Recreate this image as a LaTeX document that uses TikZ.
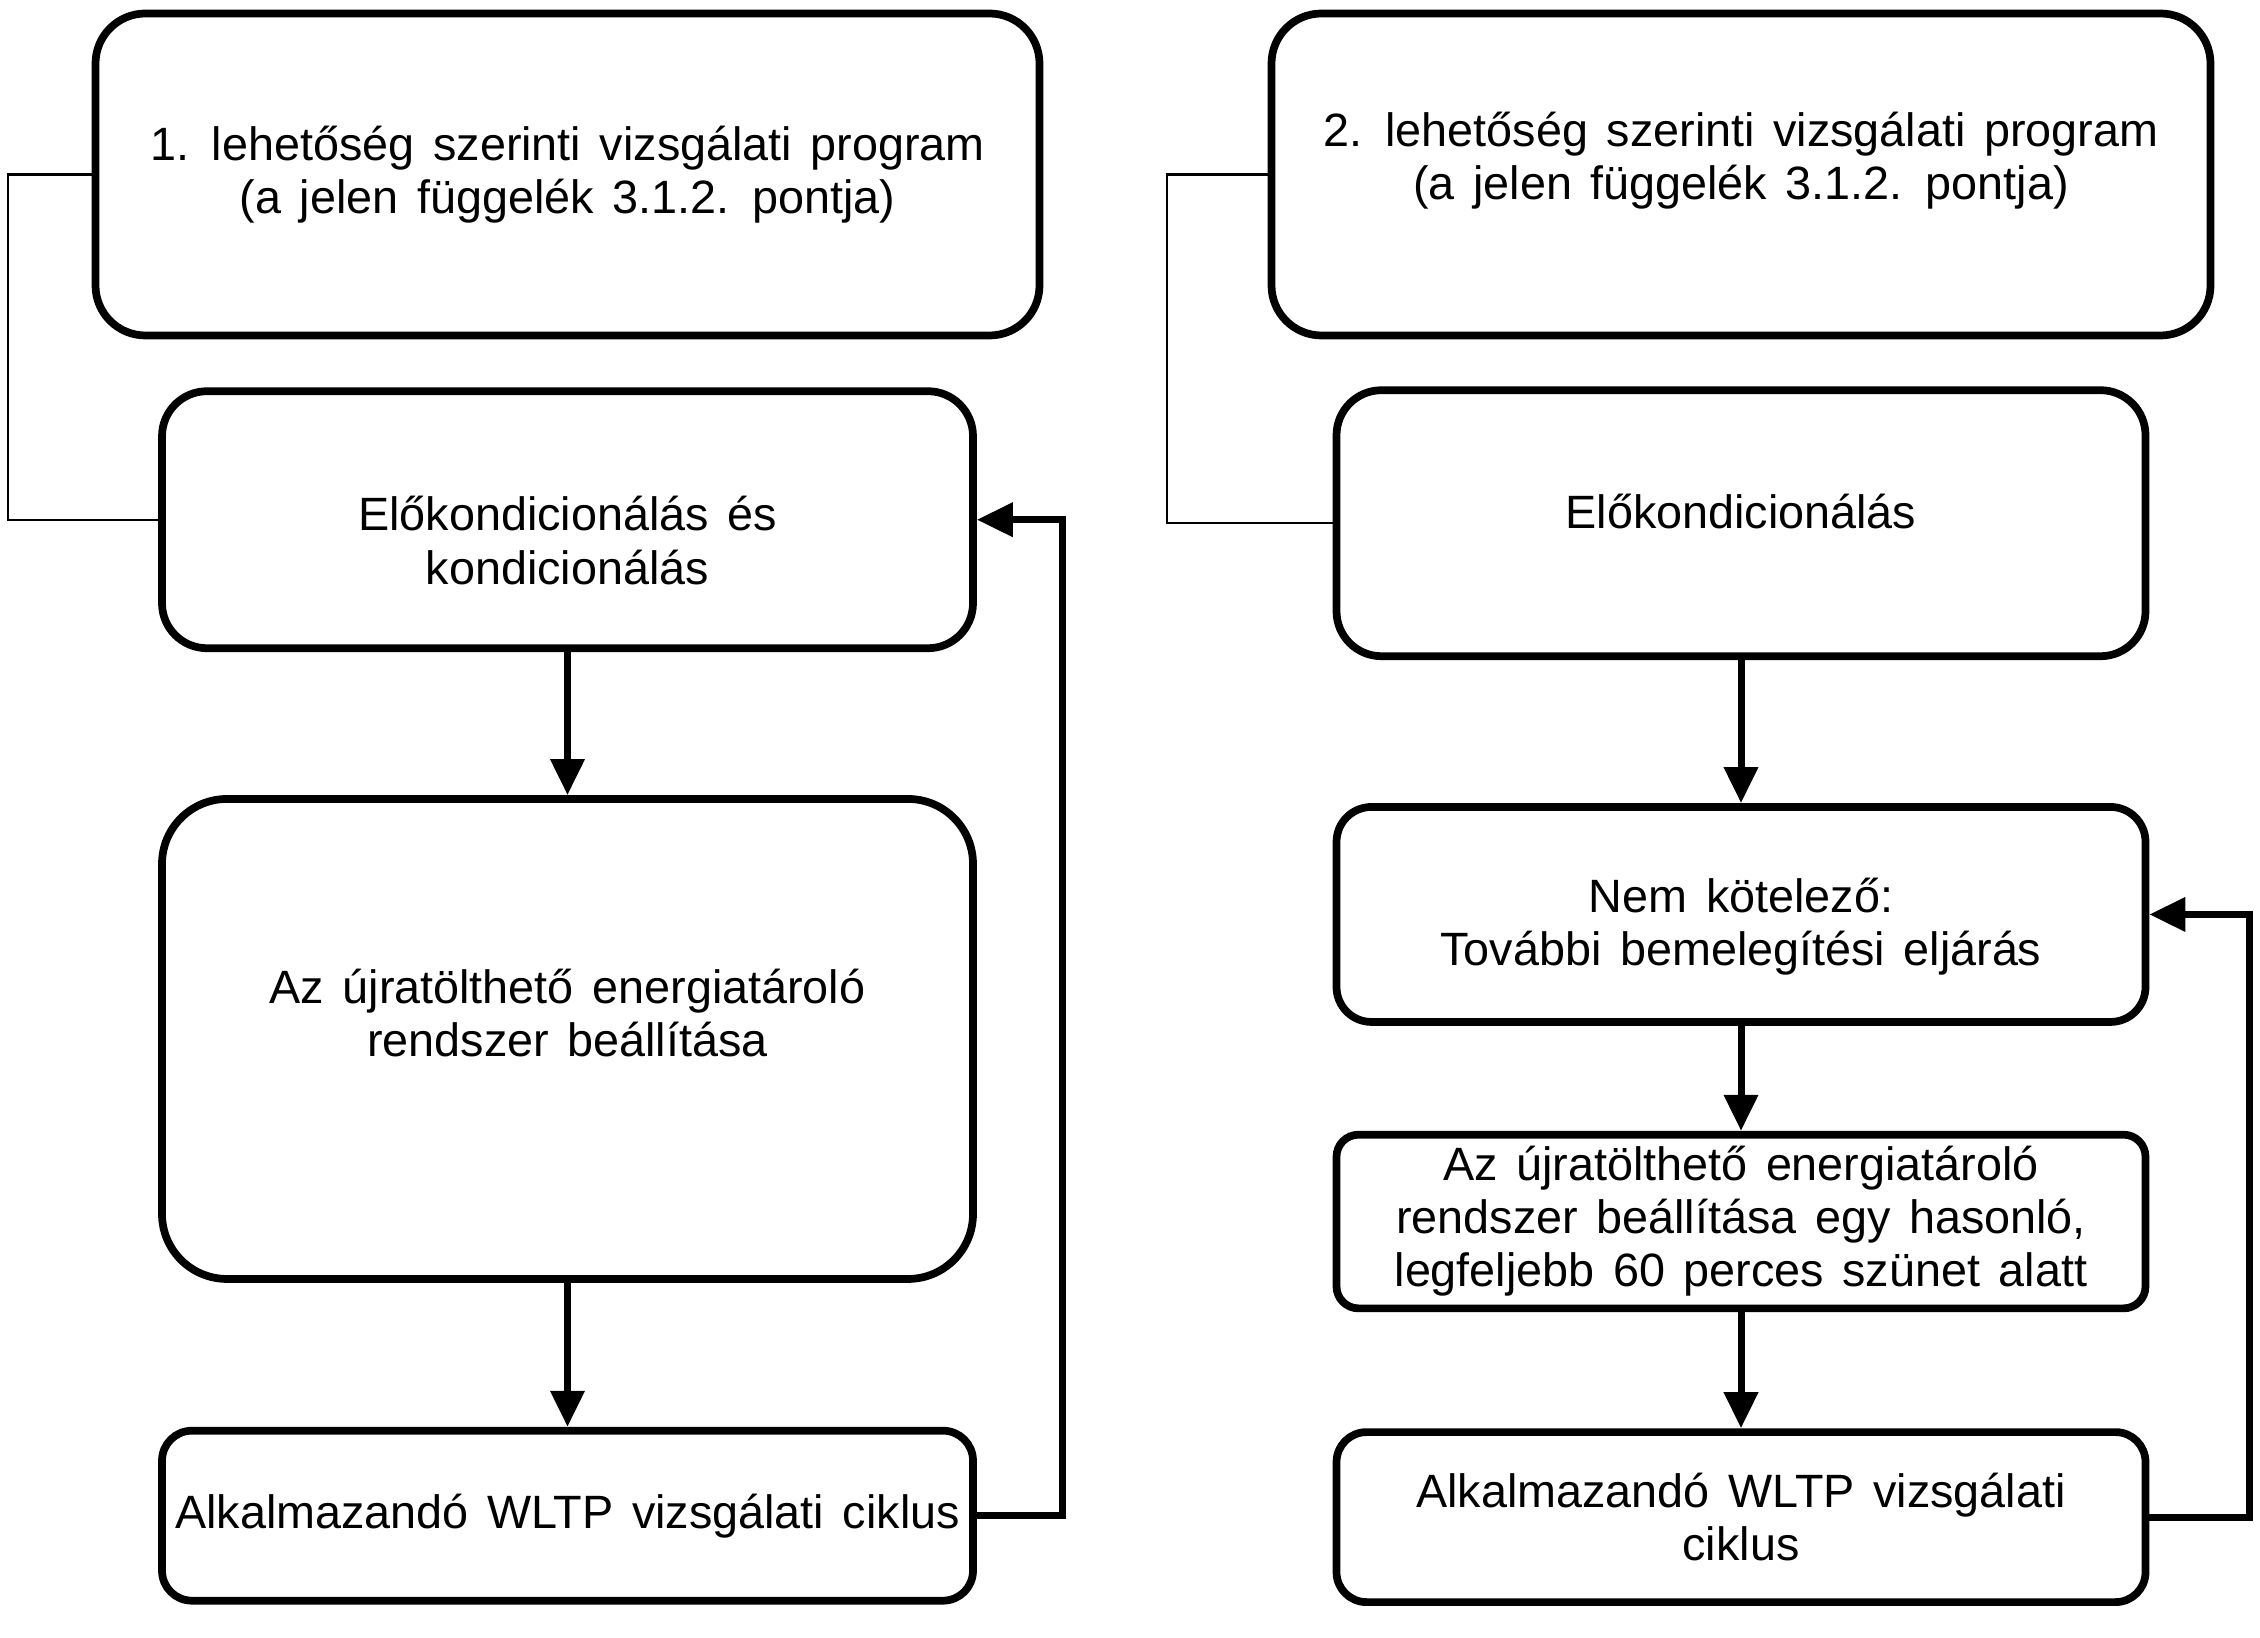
\documentclass[tikz,border=0pt]{standalone}
\usepackage{fontspec}
\setmainfont{Liberation Sans}[WordSpace=1.43]
\usetikzlibrary{positioning, arrows.meta}

\begin{document}
\begin{tikzpicture}[node distance=1.5cm, align=center,
    every node/.style={font=\fontsize{13.3}{15.1}\selectfont},
    box/.style={draw, rectangle, line width=2.2pt, rounded corners=0.45cm},
    flow/.style={line width=2pt, -{Triangle[length=0.36cm, width=0.33cm]}},
    link/.style={line width=0.6pt}]
    \useasboundingbox (0,0) rectangle (22.6,-16.38);

    % 1. lehetoseg
    \node (opta) [box, minimum width=9.44cm, minimum height=3.22cm, rounded corners=0.5cm] at (5.675,-1.745) {1. lehetőség szerinti vizsgálati program \\ (a jelen függelék 3.1.2. pontja)};
    \node (preca) [box, minimum width=8.11cm, minimum height=2.57cm, below=0.48cm of opta] {\rule{0pt}{0.76cm}Előkondicionálás és \\ kondicionálás};
    \node (rechga) [box, minimum width=8.11cm, minimum height=4.8cm, rounded corners=0.65cm, below=1.43cm of preca] {Az újratölthető energiatároló \\ rendszer beállítása \\[0pt]};
    \node (wltpa) [box, minimum width=8.11cm, minimum height=1.7cm, rounded corners=0.3cm, below=1.44cm of rechga] {Alkalmazandó WLTP vizsgálati ciklus};

    \draw [link] (opta.west) -- ++(-0.84,0) |- (preca.west);
    \draw [flow] (preca) -- (rechga);
    \draw [flow] (rechga) -- (wltpa);
    \draw [flow] (wltpa.east) -- ++(0.86,0) |- (preca.east);

    % 2. lehetoseg
    \node (optb) [box, minimum width=9.39cm, minimum height=3.22cm, rounded corners=0.5cm] at (17.41,-1.745) {2. lehetőség szerinti vizsgálati program \\ (a jelen függelék 3.1.2. pontja) \\[-0.16cm]};
    \node (precb) [box, minimum width=8.09cm, minimum height=2.66cm, below=0.47cm of optb] {Előkondicionálás \\[-0.3cm]};
    \node (warmb) [box, minimum width=8.09cm, minimum height=2.15cm, rounded corners=0.35cm, below=1.43cm of precb] {\rule{0pt}{0.58cm}Nem kötelező: \\ További bemelegítési eljárás};
    \node (rechgb) [box, minimum width=8.09cm, minimum height=1.7cm, rounded corners=0.22cm, below=1.05cm of warmb] {Az újratölthető energiatároló \\ rendszer beállítása egy hasonló, \\ legfeljebb 60 perces szünet alatt};
    \node (wltpb) [box, minimum width=8.09cm, minimum height=1.7cm, rounded corners=0.3cm, below=1.16cm of rechgb] {Alkalmazandó WLTP vizsgálati \\ ciklus};

    \draw [link] (optb.west) -- ++(-1.01,0) |- (precb.west);
    \draw [flow] (precb) -- (warmb);
    \draw [flow] (warmb) -- (rechgb);
    \draw [flow] (rechgb) -- (wltpb);
    \draw [flow] (wltpb.east) -- ++(1.0,0) |- (warmb.east);
\end{tikzpicture}
\end{document}
